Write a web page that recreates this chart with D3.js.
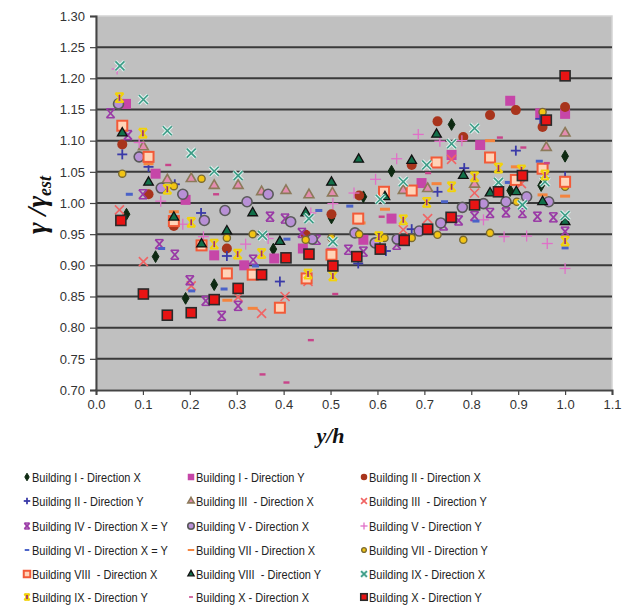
<!DOCTYPE html>
<html><head><meta charset="utf-8">
<script src="https://cdn.jsdelivr.net/npm/d3@7"></script>
<style>body{margin:0;background:#fff}svg{display:block}</style>
</head><body>
<svg id="c" width="625" height="609"></svg>
<script>
// ---------- data ----------
const xTicks = [0.0,0.1,0.2,0.3,0.4,0.5,0.6,0.7,0.8,0.9,1.0,1.1];
const yTicks = [0.70,0.75,0.80,0.85,0.90,0.95,1.00,1.05,1.10,1.15,1.20,1.25,1.30];

const b1x = [[0.065,0.982],[0.127,0.914],[0.191,0.847],[0.252,0.869],[0.378,0.926],[0.502,0.976],[0.57,1.01],[0.63,1.051],[0.758,1.126],[0.883,1.02],[0.949,1.028],[1.0,1.075]];
const b1y = [[0.064,1.159],[0.127,1.047],[0.191,1.005],[0.252,0.916],[0.316,0.90],[0.38,0.911],[0.441,0.927],[0.502,0.92],[0.57,0.941],[0.63,0.975],[0.694,1.032],[0.758,1.077],[0.819,1.093],[0.883,1.164],[0.947,1.144],[1.0,1.143]];
const b2x = [[0.056,1.094],[0.112,1.014],[0.166,0.963],[0.279,0.927],[0.447,0.949],[0.502,0.982],[0.561,1.012],[0.673,1.061],[0.728,1.131],[0.783,1.106],[0.84,1.141],[0.895,1.149],[0.952,1.122],[1.0,1.154]];
const b2y = [[0.056,1.078],[0.112,1.058],[0.168,1.03],[0.224,0.984],[0.279,0.915],[0.392,0.874],[0.559,0.903],[0.618,0.923],[0.673,0.958],[0.728,1.018],[0.785,1.056],[0.895,1.084],[0.947,1.135],[1.0,1.042]];
const b3x = [[0.101,1.09],[0.152,1.037],[0.203,1.039],[0.252,1.028],[0.303,1.028],[0.353,1.018],[0.405,1.02],[0.454,1.013],[0.504,1.016],[0.655,1.02],[0.707,1.023],[0.807,1.03],[0.96,1.089],[1.0,1.112]];
const b3y = [[0.05,0.989],[0.101,0.906],[0.203,0.867],[0.303,0.849],[0.353,0.823],[0.403,0.85],[0.452,0.874],[0.655,0.957],[0.707,0.975],[0.758,1.07],[0.807,1.016],[0.907,1.031]];
const b4 = [[0.031,1.144],[0.068,1.109],[0.1,1.014],[0.135,0.934],[0.168,0.917],[0.2,0.876],[0.234,0.843],[0.268,0.819],[0.303,0.835],[0.335,0.909],[0.371,0.978],[0.403,0.975],[0.439,0.952],[0.47,0.941],[0.538,0.925],[0.57,0.922],[0.641,0.933],[0.741,0.964],[0.773,0.972],[0.807,0.979],[0.84,0.984],[0.874,0.985],[0.909,0.984],[0.941,0.978],[0.975,0.977],[1.0,0.954]];
const b5x = [[0.048,1.159],[0.092,1.074],[0.139,1.024],[0.185,1.014],[0.231,0.972],[0.275,0.988],[0.322,1.002],[0.367,1.014],[0.415,0.97],[0.461,0.942],[0.552,0.952],[0.595,0.936],[0.642,0.942],[0.689,0.955],[0.735,0.968],[0.781,0.993],[0.826,0.999],[0.874,1.002],[0.918,1.01],[0.965,1.002]];
const b5y = [[0.045,1.215],[0.092,1.097],[0.138,1.003],[0.185,0.966],[0.229,0.946],[0.319,0.934],[0.367,0.943],[0.458,0.984],[0.505,0.999],[0.55,1.016],[0.596,1.038],[0.641,1.071],[0.687,1.11],[0.733,1.099],[0.78,1.10],[0.826,0.973],[0.87,0.946],[0.918,0.947],[0.962,0.935],[1.0,0.895]];
const b6 = [[0.071,1.014],[0.14,0.927],[0.204,0.859],[0.273,0.862],[0.34,0.899],[0.407,0.942],[0.475,0.988],[0.541,0.995],[0.743,1.002],[0.81,0.971],[0.879,1.033],[0.945,1.067],[1.0,0.928]];
const b7x = [[0.112,1.063],[0.166,0.986],[0.28,0.844],[0.334,0.831],[0.564,0.968],[0.616,0.99],[0.726,1.031],[0.84,1.10],[0.895,1.058],[0.952,1.013],[1.0,1.011]];
const b7y = [[0.056,1.047],[0.166,1.027],[0.225,1.039],[0.279,0.944],[0.334,0.95],[0.447,0.941],[0.502,0.944],[0.561,0.95],[0.615,0.944],[0.673,0.944],[0.728,0.949],[0.783,0.941],[0.84,0.952],[0.897,1.002],[0.952,1.146],[1.0,1.026]];
const b8x = [[0.056,1.124],[0.112,1.074],[0.166,0.971],[0.225,0.932],[0.279,0.887],[0.334,0.885],[0.392,0.832],[0.449,0.879],[0.502,0.917],[0.559,0.975],[0.614,1.018],[0.673,1.02],[0.726,1.065],[0.84,1.073],[0.895,1.037],[0.952,1.055],[1.0,1.034]];
const b8y = [[0.056,1.112],[0.112,1.033],[0.166,0.977],[0.225,0.934],[0.279,0.955],[0.334,0.984],[0.392,0.938],[0.447,0.984],[0.502,1.033],[0.56,1.07],[0.616,1.01],[0.673,1.068],[0.726,1.11],[0.783,1.044],[0.84,1.016],[0.896,1.018],[0.952,1.002],[1.0,0.97]];
const b9x = [[0.051,1.22],[0.101,1.166],[0.152,1.116],[0.203,1.08],[0.252,1.051],[0.303,1.044],[0.355,0.948],[0.454,0.975],[0.505,0.938],[0.606,1.006],[0.655,1.034],[0.705,1.061],[0.758,1.095],[0.807,1.12],[0.858,1.033],[0.909,0.997],[0.957,1.034],[1.0,0.98]];
const b9y = [[0.05,1.169],[0.10,1.112],[0.152,1.022],[0.203,0.969],[0.252,0.934],[0.302,0.918],[0.353,0.919],[0.452,0.886],[0.505,0.883],[0.603,0.946],[0.655,0.973],[0.705,1.001],[0.758,1.026],[0.807,1.042],[0.858,1.056],[0.907,1.053],[0.957,1.045],[1.0,0.939]];
const b10x = [[0.154,1.061],[0.256,1.014],[0.355,0.725],[0.406,0.712],[0.458,0.78],[0.51,0.854],[0.609,0.978],[0.708,1.048],[0.861,1.105],[0.911,1.089],[0.961,1.064]];
const b10y = [[0.053,0.972],[0.101,0.854],[0.152,0.82],[0.203,0.824],[0.252,0.845],[0.303,0.863],[0.353,0.885],[0.405,0.912],[0.454,0.918],[0.505,0.899],[0.556,0.914],[0.606,0.926],[0.657,0.94],[0.707,0.958],[0.757,0.977],[0.807,0.997],[0.858,1.018],[0.909,1.044],[0.96,1.133],[1.0,1.204]];

const seriesNames = [
  "Building I - Direction X","Building I - Direction Y","Building II - Direction X",
  "Building II - Direction Y","Building III  - Direction X","Building III  - Direction Y",
  "Building IV - Direction X = Y","Building V - Direction X","Building V - Direction Y",
  "Building VI - Direction X = Y","Building VII - Direction X","Building VII - Direction Y",
  "Building VIII  - Direction X","Building VIII  - Direction Y","Building IX - Direction X",
  "Building IX - Direction Y","Building X - Direction X","Building X - Direction Y"];
const seriesData = [b1x,b1y,b2x,b2y,b3x,b3y,b4,b5x,b5y,b6,b7x,b7y,b8x,b8y,b9x,b9y,b10x,b10y];
const seriesShape = ["diamond","sqMag","circRed","plusBlue","triPink","xRed","hourPurple","circLav","plusPink","dashBlue","dashOrange","dotGold","sqPeach","triGreen","xTeal","hourYellow","dashMag","sqRed"];

// ---------- drawing ----------
const svg = d3.select("#c");
const x = d3.scaleLinear().domain([0,1.1]).range([96,612]);
const y = d3.scaleLinear().domain([0.7,1.3]).range([390,16]);

svg.append("rect").attr("x",x(0)).attr("y",y(1.3)).attr("width",x(1.1)-x(0)).attr("height",y(0.7)-y(1.3))
  .attr("fill","#c0c0c0").attr("stroke","#d4d4d4").attr("stroke-width",1.5);

svg.append("g").selectAll("line").data(yTicks.filter(v=>v>0.71&&v<1.29)).join("line")
  .attr("x1",x(0)).attr("x2",x(1.1)).attr("y1",d=>y(d)).attr("y2",d=>y(d))
  .attr("stroke","#3a3a3a").attr("stroke-width",2);

const yAxis = svg.append("g").attr("transform",`translate(${x(0)},0)`)
  .call(d3.axisLeft(y).tickValues(yTicks).tickFormat(d3.format(".2f")).tickSize(6).tickPadding(5));
const xAxis = svg.append("g").attr("transform",`translate(0,${y(0.7)})`)
  .call(d3.axisBottom(x).tickValues(xTicks).tickFormat(d3.format(".1f")).tickSize(5).tickPadding(5));
[yAxis,xAxis].forEach(g=>{
  g.selectAll(".domain").attr("stroke","#444").attr("stroke-width",2);
  g.selectAll(".tick line").attr("stroke","#444").attr("stroke-width",1.2);
  g.selectAll("text").attr("font-family","Liberation Sans, Arial, sans-serif").attr("font-size",13).attr("fill","#333");
});

// marker factory
function marker(g, shape, s) {
  s = s || 1;
  const sym = (type,size,fill,stroke,sw)=>g.append("path").attr("d",d3.symbol(type,size*s*s)()).attr("fill",fill).attr("stroke",stroke||"none").attr("stroke-width",sw||0);
  const line = (x1,y1,x2,y2,c,w)=>g.append("line").attr("x1",x1*s).attr("y1",y1*s).attr("x2",x2*s).attr("y2",y2*s).attr("stroke",c).attr("stroke-width",w);
  switch(shape){
    case "diamond": sym(d3.symbolDiamond,40,"#0e2a12","#0e2a12",1); break;
    case "sqMag": sym(d3.symbolSquare,100,"#c646a8"); break;
    case "circRed": g.append("circle").attr("r",5*s).attr("fill","#a8341c"); break;
    case "plusBlue": line(-5,0,5,0,"#3a3aa8",1.8); line(0,-5,0,5,"#3a3aa8",1.8); break;
    case "triPink": sym(d3.symbolTriangle,42,"#e48cb0","#8c7a5a",1.6); break;
    case "xRed": line(-4.5,-4.5,4.5,4.5,"#f06464",1.6); line(-4.5,4.5,4.5,-4.5,"#f06464",1.6); break;
    case "hourPurple":
      line(-4,-4.5,4,4.5,"#9a3aa6",1.8); line(-4,4.5,4,-4.5,"#9a3aa6",1.8);
      line(-4,-4.5,4,-4.5,"#9a3aa6",1.5); line(-4,4.5,4,4.5,"#9a3aa6",1.5); break;
    case "circLav": g.append("circle").attr("r",5*s).attr("fill","#b890d6").attr("stroke","#5a5a5a").attr("stroke-width",1.6); break;
    case "plusPink": line(-5.5,0,5.5,0,"#e070c8",1.3); line(0,-5.5,0,5.5,"#e070c8",1.3); break;
    case "dashBlue": g.append("rect").attr("x",-3.5*s).attr("y",-1.5*s).attr("width",7*s).attr("height",3*s).attr("fill","#4a62c8"); break;
    case "dashOrange": g.append("rect").attr("x",-5*s).attr("y",-1.5*s).attr("width",10*s).attr("height",3*s).attr("fill","#f4843e"); break;
    case "dotGold": g.append("circle").attr("r",3.6*s).attr("fill","#f2c414").attr("stroke","#7a6a30").attr("stroke-width",1.4); break;
    case "sqPeach": g.append("rect").attr("x",-5*s).attr("y",-5*s).attr("width",10*s).attr("height",10*s).attr("fill","#ffd4b8").attr("stroke","#f25a38").attr("stroke-width",2); break;
    case "triGreen": sym(d3.symbolTriangle,40,"#12704a","#111",1.3); break;
    case "xTeal":
      line(-4.5,-4.5,4.5,4.5,"#dff2ee",3.6); line(-4.5,4.5,4.5,-4.5,"#dff2ee",3.6);
      line(-4.5,-4.5,4.5,4.5,"#3c9c86",1.6); line(-4.5,4.5,4.5,-4.5,"#3c9c86",1.6); break;
    case "hourYellow":
      line(-4,-4.5,4,4.5,"#f2d20a",2.2); line(-4,4.5,4,-4.5,"#f2d20a",2.2);
      line(-4,-4.5,4,-4.5,"#f2d20a",1.8); line(-4,4.5,4,4.5,"#f2d20a",1.8);
      line(0,-3,0,3,"#a02870",1.6); break;
    case "dashMag": g.append("rect").attr("x",-3*s).attr("y",-1.2*s).attr("width",6*s).attr("height",2.4*s).attr("fill","#c8448a"); break;
    case "sqRed": g.append("rect").attr("x",-5*s).attr("y",-5*s).attr("width",10*s).attr("height",10*s).attr("fill","#e81414").attr("stroke","#2a2a2a").attr("stroke-width",1.6); break;
  }
}

const plot = svg.append("g");
seriesData.forEach((data,i)=>{
  const sg = plot.append("g");
  data.forEach(d=>{
    const g = sg.append("g").attr("transform",`translate(${x(d[0])},${y(d[1])})`);
    marker(g, seriesShape[i], 1);
  });
});

// axis titles
const yt = svg.append("text").attr("transform","translate(46,205) rotate(-90)")
  .attr("text-anchor","middle").attr("font-family","Liberation Serif, Times New Roman, serif")
  .attr("font-weight","bold").attr("font-style","italic").attr("font-size",28).attr("fill","#111");
yt.append("tspan").text("γ /γ");
yt.append("tspan").attr("font-size",18).attr("dy",5).text("est");

svg.append("text").attr("x",x(0.5)).attr("y",443).attr("text-anchor","middle")
  .attr("font-family","Liberation Serif, Times New Roman, serif").attr("font-weight","bold")
  .attr("font-style","italic").attr("font-size",22).attr("fill","#111").text("y/h");

// legend
const colX = [27,191,364];
const rowY = [477,501,526,550,574,597];
seriesNames.forEach((name,i)=>{
  const c = i%3, r = Math.floor(i/3);
  const g = svg.append("g").attr("transform",`translate(${colX[c]},${rowY[r]})`);
  marker(g, seriesShape[i], 0.65);
  g.append("text").attr("transform","translate(5,4.5) scale(0.88,1)").attr("font-family","Liberation Sans, Arial, sans-serif")
    .attr("font-size",12.5).attr("fill","#222").style("white-space","pre").text(name);
});
</script>
</body></html>
